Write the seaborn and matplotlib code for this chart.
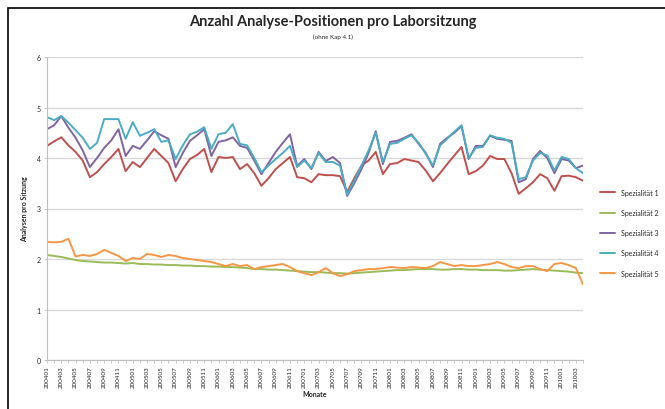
import numpy as np
import pandas as pd
import matplotlib.pyplot as plt
import seaborn as sns
from matplotlib.patches import Rectangle


# Data

monate = pd.date_range("2004-01-01", periods=76, freq="MS").strftime("%Y%m").tolist()

spez1 = [4.24, 4.33, 4.41, 4.25, 4.12, 3.95, 3.62, 3.72, 3.88, 4.02,
         4.18, 3.74, 3.92, 3.82, 4.00, 4.18, 4.04, 3.90, 3.54, 3.78,
         3.98, 4.06, 4.18, 3.72, 4.02, 4.00, 4.02, 3.78, 3.88, 3.70,
         3.45, 3.60, 3.78, 3.90, 4.02, 3.62, 3.60, 3.52, 3.68, 3.66,
         3.66, 3.64, 3.33, 3.60, 3.85, 3.95, 4.12, 3.68, 3.88, 3.90,
         3.98, 3.95, 3.92, 3.75, 3.54, 3.70, 3.88, 4.05, 4.22, 3.68,
         3.74, 3.85, 4.04, 3.98, 3.98, 3.70, 3.29, 3.40, 3.52, 3.68,
         3.60, 3.35, 3.64, 3.65, 3.62, 3.55]

spez2 = [2.08, 2.06, 2.04, 2.01, 1.98, 1.96, 1.95, 1.94, 1.93, 1.93,
         1.92, 1.91, 1.92, 1.90, 1.90, 1.89, 1.89, 1.88, 1.88, 1.87,
         1.87, 1.86, 1.86, 1.85, 1.85, 1.84, 1.84, 1.83, 1.82, 1.80,
         1.80, 1.79, 1.79, 1.78, 1.77, 1.76, 1.75, 1.74, 1.74, 1.73,
         1.72, 1.72, 1.71, 1.72, 1.73, 1.74, 1.75, 1.76, 1.77, 1.78,
         1.78, 1.79, 1.80, 1.80, 1.80, 1.79, 1.79, 1.80, 1.80, 1.79,
         1.79, 1.78, 1.78, 1.78, 1.77, 1.77, 1.78, 1.79, 1.80, 1.79,
         1.78, 1.77, 1.76, 1.75, 1.73, 1.72]

spez3 = [4.57, 4.65, 4.83, 4.60, 4.40, 4.15, 3.82, 4.00, 4.20, 4.35,
         4.57, 4.04, 4.24, 4.18, 4.35, 4.53, 4.45, 4.38, 3.82, 4.10,
         4.34, 4.45, 4.57, 4.04, 4.32, 4.35, 4.41, 4.24, 4.20, 3.95,
         3.68, 3.90, 4.12, 4.30, 4.47, 3.84, 3.98, 3.78, 4.12, 3.94,
         4.02, 3.90, 3.25, 3.50, 3.78, 4.10, 4.53, 3.88, 4.32, 4.34,
         4.40, 4.47, 4.28, 4.10, 3.82, 4.28, 4.40, 4.50, 4.63, 3.98,
         4.24, 4.24, 4.44, 4.38, 4.36, 4.34, 3.52, 3.58, 3.98, 4.14,
         4.00, 3.70, 3.98, 3.95, 3.80, 3.85]

spez4 = [4.81, 4.75, 4.83, 4.70, 4.55, 4.40, 4.18, 4.30, 4.77, 4.77,
         4.77, 4.38, 4.71, 4.44, 4.50, 4.57, 4.32, 4.35, 3.98, 4.25,
         4.47, 4.52, 4.61, 4.18, 4.47, 4.50, 4.67, 4.28, 4.25, 4.00,
         3.72, 3.85, 3.98, 4.10, 4.24, 3.82, 3.95, 3.80, 4.10, 3.92,
         3.92, 3.85, 3.28, 3.55, 3.85, 4.15, 4.50, 3.92, 4.28, 4.30,
         4.38, 4.45, 4.30, 4.08, 3.85, 4.25, 4.38, 4.52, 4.65, 4.00,
         4.20, 4.22, 4.45, 4.40, 4.38, 4.30, 3.58, 3.62, 3.95, 4.10,
         4.05, 3.75, 4.02, 3.98, 3.80, 3.70]

spez5 = [2.34, 2.33, 2.34, 2.40, 2.05, 2.08, 2.06, 2.10, 2.18, 2.12,
         2.06, 1.96, 2.02, 2.00, 2.10, 2.08, 2.04, 2.08, 2.06, 2.02,
         2.00, 1.98, 1.96, 1.94, 1.90, 1.86, 1.90, 1.86, 1.88, 1.80,
         1.84, 1.86, 1.88, 1.90, 1.84, 1.76, 1.72, 1.68, 1.74, 1.82,
         1.72, 1.66, 1.70, 1.76, 1.78, 1.80, 1.80, 1.82, 1.84, 1.83,
         1.82, 1.84, 1.83, 1.82, 1.86, 1.94, 1.90, 1.86, 1.88, 1.86,
         1.86, 1.88, 1.90, 1.94, 1.90, 1.84, 1.82, 1.86, 1.86, 1.80,
         1.76, 1.90, 1.92, 1.88, 1.82, 1.50]

serien = ["Spezialität 1", "Spezialität 2", "Spezialität 3", "Spezialität 4", "Spezialität 5"]
farben = ["#C0504D", "#9BBB59", "#8064A2", "#4BACC6", "#F79646"]

df = pd.DataFrame({"Monat": monate, "idx": np.arange(len(monate)),
                   serien[0]: spez1, serien[1]: spez2, serien[2]: spez3,
                   serien[3]: spez4, serien[4]: spez5})
long = df.melt(id_vars=["Monat", "idx"], value_vars=serien,
               var_name="Serie", value_name="Wert")


# Plot

sns.set_style("white")
plt.rcParams["font.family"] = ["Lato", "DejaVu Sans"]

fig = plt.figure(figsize=(6.65, 4.1), dpi=100)
ax = fig.add_axes([47 / 665, 49 / 410, 536 / 665, 303 / 410])

sns.lineplot(data=long, x="idx", y="Wert", hue="Serie", hue_order=serien,
             palette=farben, linewidth=1.4, sort=False, ax=ax)

ax.set_xlim(0, len(monate) - 1)
ax.set_ylim(0, 6)
ax.set_yticks(range(0, 7))
ax.set_yticklabels([str(i) for i in range(0, 7)], fontsize=5)
ax.set_xticks(df["idx"][::2])
ax.set_xticks(df["idx"], minor=True)
ax.set_xticklabels(df["Monat"][::2], rotation=90, fontsize=4.5)
ax.tick_params(axis="both", which="both", length=2.5, width=0.6, color="#BFBFBF",
               direction="out", pad=2)
ax.tick_params(axis="x", which="both", bottom=True, length=2)
ax.tick_params(axis="y", left=True)
ax.yaxis.grid(True, color="#D9D9D9", linewidth=1.0)
for side in ["top", "right"]:
    ax.spines[side].set_visible(False)
for side in ["left", "bottom"]:
    ax.spines[side].set_color("#BFBFBF")
    ax.spines[side].set_linewidth(0.8)

ax.set_xlabel("Monate", fontsize=5, fontweight="bold", labelpad=2)
ax.set_ylabel("Analysen pro Sitzung", fontsize=5, fontweight="bold", labelpad=6)

leg = ax.legend(loc="center left", bbox_to_anchor=(1.02, 0.42), frameon=False,
                fontsize=5, handlelength=2.2, labelspacing=1.9)
for line in leg.get_lines():
    line.set_linewidth(1.4)

fig.text(0.5, 1 - 22 / 410, "Anzahl Analyse-Positionen pro Laborsitzung",
         ha="center", va="center", fontsize=10.5, fontweight="bold")
fig.text(0.5, 1 - 37 / 410, "(ohne Kap 4.1)", ha="center", va="center", fontsize=4.5)

fig.patches.append(Rectangle((8 / 665, -0.1), 1.2, 1.1 - 9 / 410, transform=fig.transFigure,
                             fill=False, edgecolor="black", linewidth=1.2))

plt.savefig("out.png", dpi=100)
